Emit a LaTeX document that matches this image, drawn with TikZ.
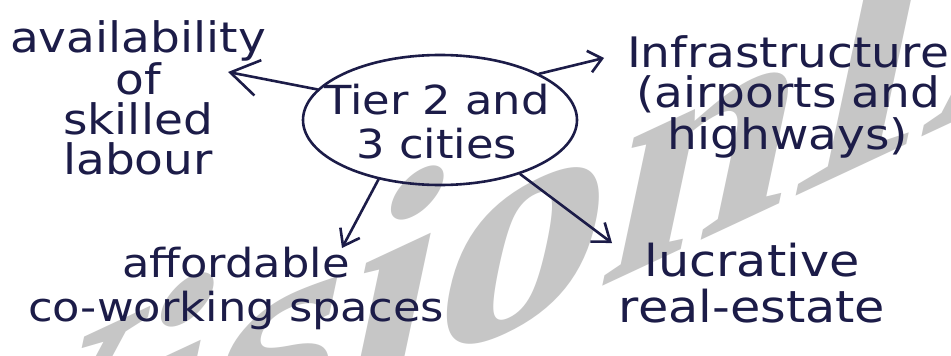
\documentclass[tikz,border=0pt]{standalone}
\usepackage{fontspec}
\setmainfont{DejaVu Sans}
\newfontfamily\handfont[FakeStretch=1.12]{DejaVu Sans}
\newfontfamily\wmfont{Liberation Serif}
\usetikzlibrary{shapes.geometric,arrows.meta}
\definecolor{ink}{RGB}{28,28,72}
\definecolor{wm}{RGB}{198,198,198}
\tikzset{
  hand/.style={text=ink,align=center,inner sep=0pt,font=\handfont\fontsize{42}{40}\selectfont},
  conn/.style={draw=ink,line width=2.6pt,line cap=round,line join=round},
  wmstyle/.style={text=wm,inner sep=0pt,font=\wmfont\bfseries\fontsize{330}{330}\selectfont},
}
\begin{document}
\begin{tikzpicture}[x=1pt,y=-1pt]
\useasboundingbox[fill=white] (0,0) rectangle (951,356);
\clip (0,0) rectangle (951,356);
\begin{scope}[shift={(-139,632)}]
\node[wmstyle,cm={1.042,0.486,0.208,0.978,(0,0)},transform shape,anchor=base west] (wmark) at (0,0) {VisionIAS};
\end{scope}
\node[ellipse,draw=ink,line width=2.6pt,minimum width=274pt,minimum height=130pt,inner sep=0pt] (c) at (440,120) {};
\node[hand,font=\handfont\fontsize{40}{44}\selectfont] (ct) at (437,122) {Tier 2 and\\3 cities};
\node[hand] (avail) at (138,98) {availability\\of\\skilled\\labour};
\node[hand] (infra) at (788,97) {Infrastructure\\(airports and\\highways)};
\node[hand,font=\handfont\fontsize{40}{44}\selectfont] (afford) at (236,288) {affordable\\co-working spaces};
\node[hand,font=\handfont\fontsize{44}{46}\selectfont] (lucr) at (752,283) {lucrative\\real-estate};
\coordinate (t1) at (228,72);
\coordinate (t2) at (604,58);
\coordinate (t3) at (342,248);
\coordinate (t4) at (612,243);
\draw[conn,-{Straight Barb[length=28pt,width=36pt,line width=2.6pt]}] (c.166) -- (t1);
\draw[conn,-{Straight Barb[length=13pt,width=22pt,line width=2.6pt]}] (c.25) -- (t2);
\draw[conn,-{Straight Barb[length=15pt,width=22pt,line width=2.6pt]}] (c.224) -- (t3);
\draw[conn,-{Straight Barb[length=16pt,width=24pt,line width=2.6pt]}] (c.-34) -- (t4);
\end{tikzpicture}
\end{document}
